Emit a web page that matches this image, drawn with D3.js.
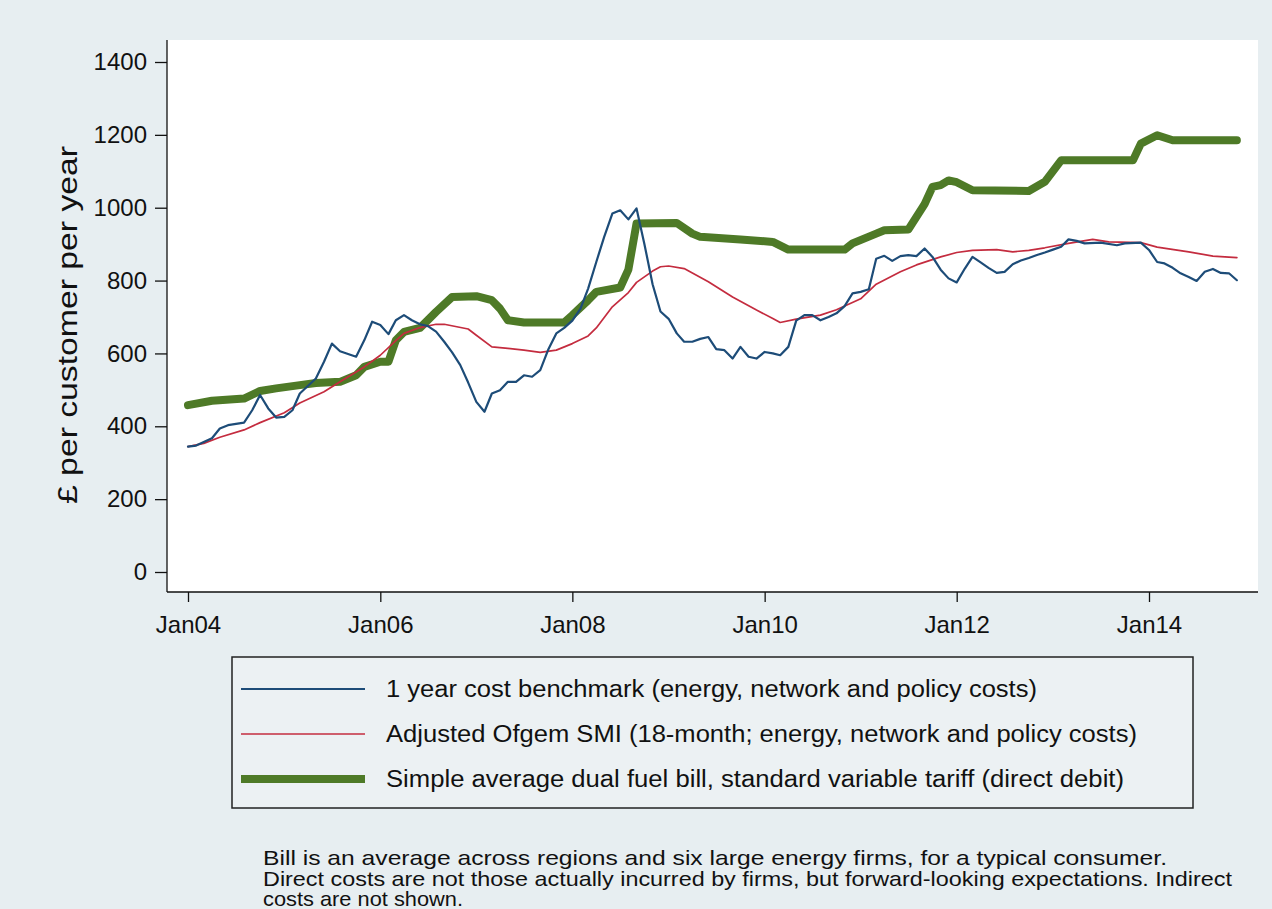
<!DOCTYPE html>
<html>
<head>
<meta charset="utf-8">
<script src="https://cdn.jsdelivr.net/npm/d3@7"></script>
<style>
  body { margin: 0; background: #e7eef1; }
  svg { display: block; font-family: "Liberation Sans", Arial, sans-serif; }
</style>
</head>
<body>
<svg id="chart"></svg>
<script>
// months counted from Jan 2004
var benchMonths = [0,1,3,4,5,7,8,9,10,11,12,13,14,16,17,18,19,21,22,23,24,25,26,27,28,29,30,31,32,33,34,35,36,37,38,39,40,41,42,43,44,45,46,47,48,49,50,51,52,53,54,55,56,57,58,59,60,61,62,63,64,65,66,67,68,69,70,71,72,73,74,75,76,77,78,79,80,81,82,83,84,85,86,87,88,89,90,91,92,93,94,95,96,97,98,99,100,101,102,103,104,105,106,107,108,109,110,111,112,114,116,117,119,120,121,122,123,124,125,126,127,128,129,130,131];
var benchValues = [344,347,367,394,403,410,444,486,449,424,426,444,490,531,577,627,606,591,636,687,678,653,691,705,691,680,675,660,632,603,568,520,467,440,490,499,522,522,540,536,554,610,655,670,690,723,778,851,920,984,993,968,998,900,790,715,695,655,632,632,640,645,612,609,586,618,591,586,604,600,595,618,690,705,705,691,700,710,730,765,769,776,860,868,854,867,870,867,888,865,830,806,795,833,865,850,835,821,824,845,855,862,870,877,885,893,913,909,902,904,897,902,904,884,851,847,835,820,810,799,824,832,821,820,801];

var smiMonths = [0,2,4,7,9,12,14,17,19,22,24,26,27,29,31,32,35,36,38,40,42,44,46,48,50,51,53,55,56,58,59,60,62,65,68,71,73,74,76,79,81,84,86,89,91,94,96,98,101,103,105,107,110,113,115,119,121,125,128,131];
var smiValues = [344,353,370,390,410,437,464,495,522,563,595,635,655,671,680,680,667,650,618,614,609,603,609,627,648,670,728,767,795,826,838,840,833,797,755,719,696,685,694,705,720,750,790,824,843,865,877,883,885,879,883,890,902,913,906,904,892,879,867,863];

var billMonths = [0,3,7,9,11,14,16,19,21,22,24,25,26,27,29,31,33,36,38,39,40,42,47,48,50,51,54,55,56,61,63,64,69,73,75,82,83,86,87,90,92,93,94,95,96,98,105,107,109,118,119,121,123,131];
var billValues = [458,470,476,497,504,513,519,522,540,563,577,577,636,659,670,714,755,757,746,723,691,685,685,705,746,769,781,830,957,958,929,920,913,906,885,885,902,929,938,940,1010,1057,1062,1075,1070,1048,1046,1071,1130,1130,1176,1199,1185,1185];

var seriesNames = [
  "1 year cost benchmark (energy, network and policy costs)",
  "Adjusted Ofgem SMI (18-month; energy, network and policy costs)",
  "Simple average dual fuel bill, standard variable tariff (direct debit)"
];
var yTicks = [0,200,400,600,800,1000,1200,1400];
var xTickLabels = ["Jan04","Jan06","Jan08","Jan10","Jan12","Jan14"];
var yTitle = "£ per customer per year";
var notes = [
  "Bill is an average across regions and six large energy firms, for a typical consumer.",
  "Direct costs are not those actually incurred by firms, but forward-looking expectations. Indirect",
  "costs are not shown."
];

var width = 1272, height = 909;
var colors = ["#1d4c78", "#c42c3f", "#4e7a27"];
var widths = [2.2, 1.7, 8];

var svg = d3.select("#chart").attr("width", width).attr("height", height);

svg.append("rect").attr("width", width).attr("height", height).attr("fill", "#e7eef1");

var plotLeft = 167, plotRight = 1258, plotTop = 40, plotBottom = 592;
svg.append("rect")
  .attr("x", plotLeft).attr("y", plotTop)
  .attr("width", plotRight - plotLeft).attr("height", plotBottom - plotTop)
  .attr("fill", "#ffffff");

function monthDate(m) { return new Date(2004 + Math.floor(m / 12), m % 12, 1); }

var x = d3.scaleTime()
  .domain([monthDate(0), monthDate(120)])
  .range([188, 1149]);
var y = d3.scaleLinear().domain([0, 1400]).range([572, 62]);

var series = [
  benchMonths.map((m, i) => ({date: monthDate(m), value: benchValues[i]})),
  smiMonths.map((m, i) => ({date: monthDate(m), value: smiValues[i]})),
  billMonths.map((m, i) => ({date: monthDate(m), value: billValues[i]}))
];

var line = d3.line().x(d => x(d.date)).y(d => y(d.value));

// draw thick bill line first, then the thinner ones on top
[2, 1, 0].forEach(function (k) {
  svg.append("path")
    .datum(series[k])
    .attr("fill", "none")
    .attr("stroke", colors[k])
    .attr("stroke-width", widths[k])
    .attr("stroke-linejoin", "round")
    .attr("stroke-linecap", "round")
    .attr("d", line);
});

// axes
var yAxis = d3.axisLeft(y).tickValues(yTicks).tickSize(12).tickPadding(8)
  .tickFormat(d3.format("d"));
var gy = svg.append("g").attr("transform", "translate(" + plotLeft + ",0)").call(yAxis);
gy.select(".domain").remove();

var xTicks = xTickLabels.map((t, i) => monthDate(i * 24));
var xAxis = d3.axisBottom(x).tickValues(xTicks).tickSize(10).tickPadding(14)
  .tickFormat((d, i) => xTickLabels[i]);
var gx = svg.append("g").attr("transform", "translate(0," + plotBottom + ")").call(xAxis);
gx.select(".domain").remove();

[gx, gy].forEach(function (g) {
  g.selectAll("text").attr("font-size", 24).attr("fill", "#111")
    .attr("font-family", "Liberation Sans, Arial, sans-serif");
  g.selectAll("line").attr("stroke", "#111").attr("stroke-width", 1.3);
});

svg.append("line").attr("x1", plotLeft).attr("x2", plotLeft)
  .attr("y1", plotTop).attr("y2", plotBottom).attr("stroke", "#111").attr("stroke-width", 1.3);
svg.append("line").attr("x1", plotLeft).attr("x2", plotRight)
  .attr("y1", plotBottom).attr("y2", plotBottom).attr("stroke", "#111").attr("stroke-width", 1.3);

svg.append("text")
  .attr("transform", "translate(77,325) rotate(-90)")
  .attr("text-anchor", "middle")
  .attr("font-size", 27)
  .attr("fill", "#111")
  .attr("textLength", 358)
  .attr("lengthAdjust", "spacingAndGlyphs")
  .text(yTitle);

// legend
var legendWidths = [651, 751, 738];
var legend = svg.append("g");
legend.append("rect")
  .attr("x", 232).attr("y", 657).attr("width", 961).attr("height", 151)
  .attr("fill", "#ecf1f3").attr("stroke", "#222").attr("stroke-width", 1.5);

seriesNames.forEach(function (name, i) {
  var cy = 689 + i * 45;
  legend.append("line")
    .attr("x1", 241).attr("x2", 365).attr("y1", cy).attr("y2", cy)
    .attr("stroke", colors[i]).attr("stroke-width", widths[i]);
  legend.append("text")
    .attr("x", 386).attr("y", cy + 8)
    .attr("font-size", 23)
    .attr("fill", "#111")
    .attr("textLength", legendWidths[i])
    .attr("lengthAdjust", "spacingAndGlyphs")
    .text(name);
});

// footnote
var noteWidths = [904, 969, 200];
notes.forEach(function (t, i) {
  svg.append("text")
    .attr("x", 263).attr("y", 865 + i * 20.5)
    .attr("font-size", 21)
    .attr("fill", "#111")
    .attr("textLength", noteWidths[i])
    .attr("lengthAdjust", "spacingAndGlyphs")
    .text(t);
});
</script>
</body>
</html>
